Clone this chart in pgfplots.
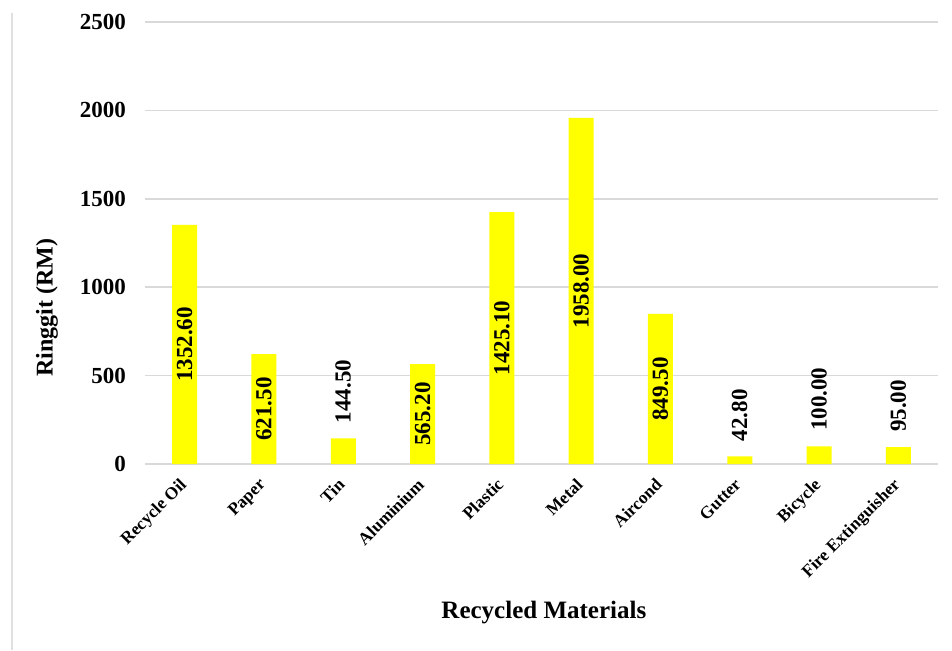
\documentclass[border=0pt]{standalone}
\usepackage{pgfplots}
\pgfplotsset{compat=1.18}
\usepackage{fontspec}
\setmainfont{Liberation Serif}
\definecolor{baryellow}{HTML}{FFFF00}
\begin{document}
\begin{tikzpicture}
\path[use as bounding box] (-72.5pt,-93pt) rectangle (403.5pt,232pt);
\draw[color=black!12, line width=0.8pt] (-66.5pt,-93pt) -- (-66.5pt,225.5pt);
\begin{axis}[
  at={(0,0)}, anchor=south west, scale only axis,
  width=396.5pt, height=221pt,
  xmin=-0.5, xmax=9.5, ymin=0, ymax=2500,
  ytick={0,500,1000,1500,2000,2500},
  xtick={0,1,2,3,4,5,6,7,8,9},
  xticklabels={Recycle Oil,Paper,Tin,Aluminium,Plastic,Metal,Aircond,Gutter,Bicycle,Fire Extinguisher},
  axis line style={draw=none},
  major tick length=0pt,
  ymajorgrids, grid style={color=black!15, line width=0.8pt},
  /pgf/number format/assume math mode=true,
  /pgf/number format/1000 sep={},
  yticklabel style={font=\fontsize{11.5}{12}\selectfont\bfseries, xshift=-6pt},
  xticklabel style={font=\fontsize{8.7}{9}\selectfont\bfseries, xshift=-3pt, yshift=-5pt, rotate=45, anchor=north east, inner sep=1pt},
  xlabel={Recycled Materials},
  xlabel style={at={(axis description cs:0.503,-0.335)}, anchor=center, font=\fontsize{12.5}{13}\selectfont\bfseries},
  ylabel={Ringgit (RM)},
  ylabel style={at={(axis description cs:-0.1236,0.353)}, anchor=center, font=\fontsize{12}{13}\selectfont\bfseries},
]
\addplot[ybar, bar width=12.5pt, fill=baryellow, draw=none] coordinates {
  (0,1352.6) (1,621.5) (2,144.5) (3,565.2) (4,1425.1) (5,1958) (6,849.5) (7,42.8) (8,100) (9,95)};
\addplot[draw=none, mark=none, point meta=explicit symbolic, nodes near coords,
  every node near coord/.append style={anchor=center, rotate=90, inner sep=0pt, font=\fontsize{11.5}{12}\selectfont\bfseries}]
  coordinates {(0,676.3)[1352.60] (1,310.75)[621.50] (3,282.6)[565.20] (4,712.55)[1425.10] (5,979)[1958.00] (6,424.75)[849.50]};
\addplot[draw=none, mark=none, point meta=explicit symbolic, nodes near coords,
  every node near coord/.append style={yshift=7.5pt, rotate=90, anchor=west, inner sep=0pt, font=\fontsize{11.5}{12}\selectfont\bfseries}]
  coordinates {(2,144.5)[144.50] (7,42.8)[42.80] (8,100)[100.00] (9,95)[95.00]};
\end{axis}
\end{tikzpicture}
\end{document}
